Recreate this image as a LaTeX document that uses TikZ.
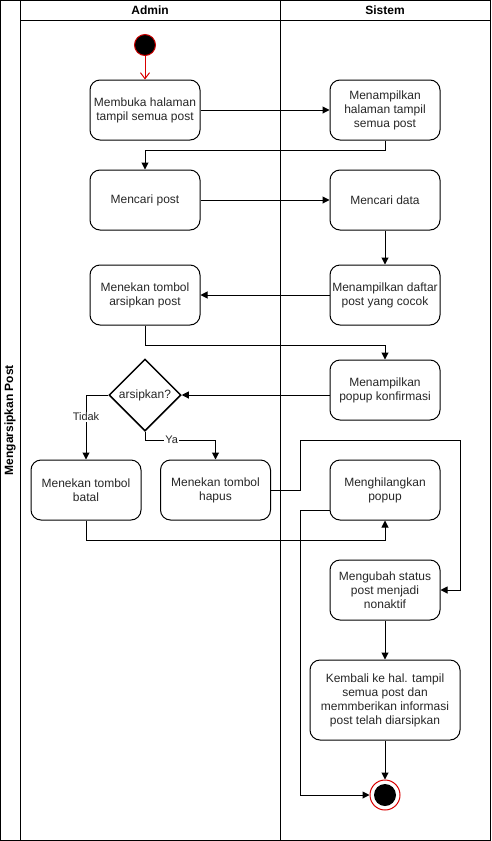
\documentclass[tikz,border=0pt]{standalone}
\usepackage{fontspec}
\setmainfont{Liberation Sans}
\usetikzlibrary{arrows.meta,shapes.geometric}
\begin{document}
\begin{tikzpicture}[x=1pt,y=-1pt,
  act/.style={draw,line width=1pt,rounded corners=10pt,minimum width=110pt,minimum height=60pt,align=center,font=\fontsize{12}{14}\selectfont,text=black!85,inner sep=1pt},
  conn/.style={draw,line width=1pt,-{Triangle[length=7pt,width=7pt]}},
  frame/.style={draw,line width=1pt},
  lbl/.style={font=\fontsize{11}{13}\selectfont,text=black!85,fill=white,inner sep=1pt}]
\useasboundingbox (0,0) rectangle (491,841);
% frame
\draw[frame] (0.5,0.5) rectangle (490.5,840.5);
\draw[frame] (20,0.5) -- (20,840.5);
\draw[frame] (20,20) -- (490.5,20);
\draw[frame] (280,0.5) -- (280,840.5);
\node[font=\bfseries\fontsize{12}{14}\selectfont] (hA) at (150,10) {Admin};
\node[font=\bfseries\fontsize{12}{14}\selectfont] (hS) at (385,10) {Sistem};
\node[font=\bfseries\fontsize{12}{14}\selectfont,rotate=90] (title) at (10,420) {Mengarsipkan Post};
% start
\node[circle,fill=black,draw=red!80!black,line width=1pt,minimum size=21pt,inner sep=0] (start) at (145,45) {};
% activities
\node[act] (a1) at (145,110) {Membuka halaman\\tampil semua post};
\node[act] (s1) at (385,110) {Menampilkan\\halaman tampil\\semua post};
\node[act] (a2) at (145,200) {Mencari post};
\node[act] (s2) at (385,200) {Mencari data};
\node[act] (s3) at (385,295) {Menampilkan daftar\\post yang cocok};
\node[act] (a3) at (145,295) {Menekan tombol\\arsipkan post};
\node[act] (s4) at (385,390) {Menampilkan\\popup konfirmasi};
\node[draw,line width=1.5pt,diamond,minimum width=72pt,minimum height=72pt,inner sep=0,font=\fontsize{12}{14}\selectfont,text=black!85] (d) at (145,395) {arsipkan?};
\node[act] (b1) at (86,490) {Menekan tombol\\batal};
\node[act] (b2) at (215.5,490) {Menekan tombol\\hapus};
\node[act] (s5) at (385,490) {Menghilangkan\\popup};
\node[act] (s6) at (385,590) {Mengubah status\\post menjadi\\nonaktif};
\node[act,minimum width=150pt,minimum height=80pt] (s7) at (385,700) {Kembali ke hal. tampil\\semua post dan\\memmberikan informasi\\post telah diarsipkan};
% end
\node[circle,draw=red!85!black,line width=1pt,fill=white,minimum size=30pt,inner sep=0] (end) at (385,795) {};
\node[circle,fill=black,minimum size=22pt,inner sep=0] (endin) at (385,795) {};
% connectors
\draw[line width=1pt,red!85!black,-{Straight Barb[length=6pt,width=9pt]}] (start) -- (a1);
\draw[conn] (a1) -- (s1);
\draw[conn] (s1.south) |- (145,150) -- (a2.north);
\draw[conn] (a2) -- (s2);
\draw[conn] (s2) -- (s3);
\draw[conn] (s3) -- (a3);
\draw[conn] (a3.south) |- (385,345) -- (s4.north);
\draw[conn] (s4.west |- d.east) -- (d.east);
\draw[conn] (d.west) -| (b1.north) node[lbl,pos=0.67] {Tidak};
\draw[conn] (d.south) |- (b2.north |- 0,440) node[lbl,pos=0.69] {Ya} -- (b2.north);
\draw[conn] (b1.south) |- (385,540) -- (s5.south);
\draw[conn] (b2.east) -| (300,440) -| (460,590) -- (s6.east);
\draw[conn] (s6) -- (s7);
\draw[conn] (s7) -- (end);
\draw[conn] (s5.west |- 0,510) -| (300,795) -- (end.west);
\end{tikzpicture}
\end{document}
